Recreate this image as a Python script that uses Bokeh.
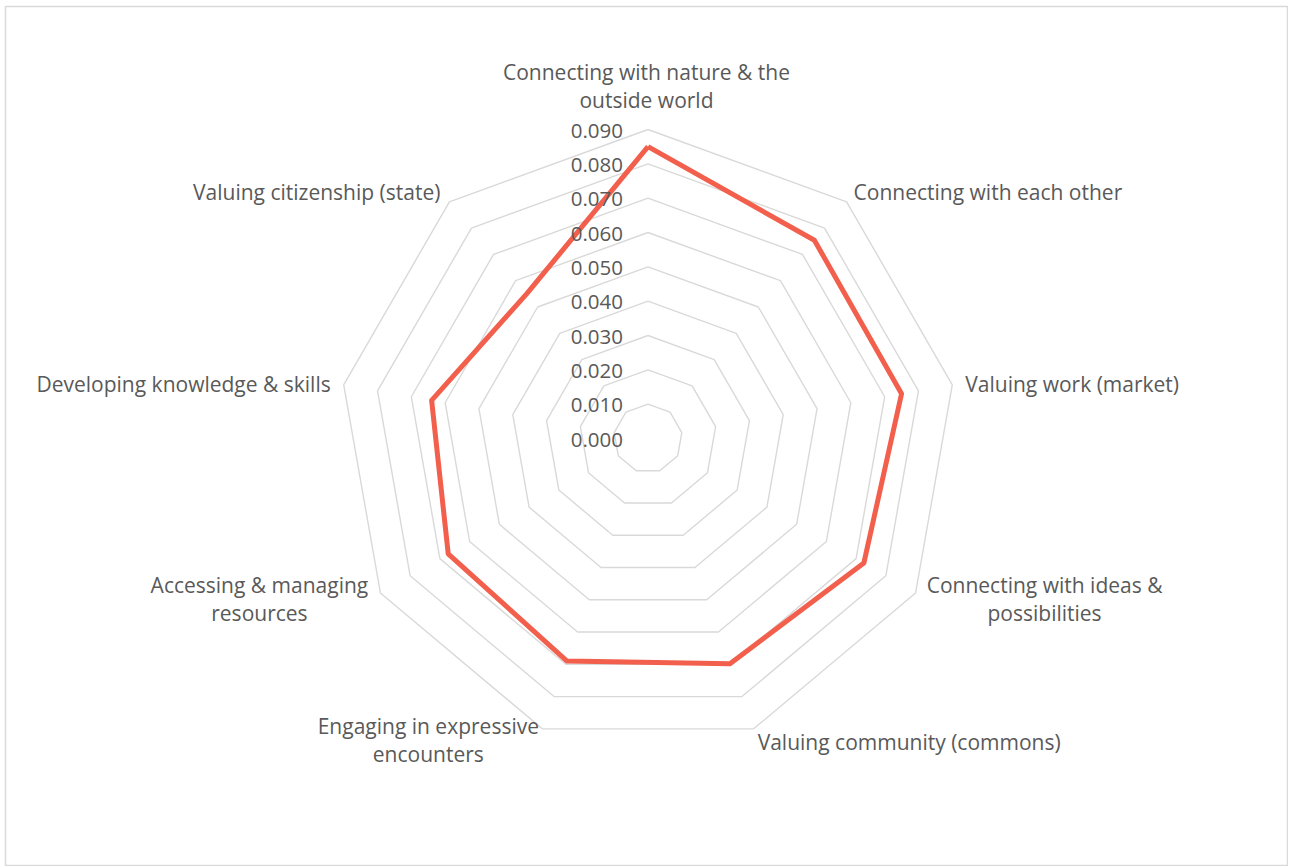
import numpy as np
from bokeh.plotting import figure
from bokeh.models import ColumnDataSource, Range1d
from bokeh.core.properties import value
from bokeh.embed import file_html
from bokeh.resources import INLINE

# ---- data ----
categories = [
    "Connecting with nature & the\noutside world",
    "Connecting with each other",
    "Valuing work (market)",
    "Connecting with ideas &\npossibilities",
    "Valuing community (commons)",
    "Engaging in expressive\nencounters",
    "Accessing & managing\nresources",
    "Developing knowledge & skills",
    "Valuing citizenship (state)",
]
values = [0.085, 0.0754, 0.075, 0.0726, 0.0698, 0.069, 0.0672, 0.064, 0.055]
ticks = [0.000, 0.010, 0.020, 0.030, 0.040, 0.050, 0.060, 0.070, 0.080, 0.090]
tick_labels = ["%.3f" % t for t in ticks]
r_max = 0.090

# ---- layout ----
FL, FT = 5, 6          # frame left / top (page px)
FW, FH = 1283, 860     # frame size
px_per_unit = 3433.0
cx_page, cy_page = 647.5, 438.0
x0 = (FL - cx_page) / px_per_unit
x1 = (FL + FW - cx_page) / px_per_unit
y1 = (cy_page - FT) / px_per_unit
y0 = -(FT + FH - cy_page) / px_per_unit

p = figure(width=FL + FW, height=FT + FH, output_backend="svg", toolbar_location=None,
           x_range=Range1d(x0, x1), y_range=Range1d(y0, y1),
           min_border_left=FL, min_border_top=FT, min_border_right=0, min_border_bottom=0)
p.axis.visible = False
p.grid.visible = False
p.outline_line_color = "#d9d9d9"
p.outline_line_width = 1.5
p.background_fill_color = "white"
p.border_fill_color = "white"

n = len(categories)
angles = np.deg2rad(90 - 40 * np.arange(n))

# grid rings
for t in ticks[1:]:
    xs = list(t * np.cos(angles)) + [t * np.cos(angles[0])]
    ys = list(t * np.sin(angles)) + [t * np.sin(angles[0])]
    p.line(xs, ys, line_color="#d9d9d9", line_width=1.4)

# data series
vals = np.array(values)
sx = list(vals * np.cos(angles)) + [vals[0] * np.cos(angles[0])]
sy = list(vals * np.sin(angles)) + [vals[0] * np.sin(angles[0])]
p.line(sx, sy, line_color="#f25f4c", line_width=5, line_join="round")

# tick labels
p.text(x=[0] * len(ticks), y=ticks, text=tick_labels, text_align="right",
       text_baseline="middle", x_offset=-25, y_offset=1, text_color="#595959",
       text_font=value("Open Sans"), text_font_size="20.5px")

# category labels
aligns = ["center", "left", "left", "center", "left", "center", "center", "right", "right"]
xoff = [-1.5, 7, 13, 129, 4, -114, -121, -13, -9]
yoff = [-43.5, -10, -1, 6, 13.5, 11, 6, -1, -10]
src = ColumnDataSource(dict(
    x=r_max * np.cos(angles), y=r_max * np.sin(angles), text=categories,
    align=aligns, xo=xoff, yo=yoff))
p.text(x="x", y="y", text="text", source=src, text_align="align",
       text_baseline="middle", x_offset="xo", y_offset="yo",
       text_color="#595959", text_font=value("Open Sans"),
       text_font_size="21px", text_line_height=1.0)

open("out.html", "w").write(file_html(p, INLINE))
